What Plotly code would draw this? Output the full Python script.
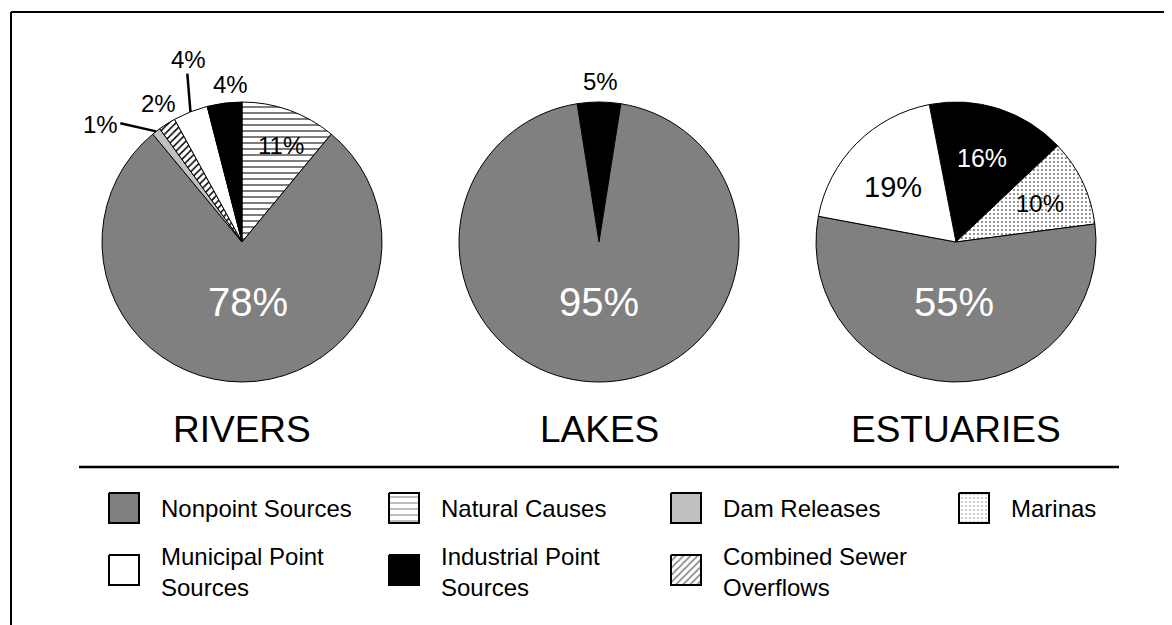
import math
import plotly.graph_objects as go

W, H = 1172, 625
OFF = 8  # browser body margin: the figure is drawn starting at (8, 8)
FW, FH = W - OFF, H - OFF
FONT = "Liberation Sans, Arial, sans-serif"

# ---------------- data ----------------
rivers_labels = ["Natural Causes", "Nonpoint Sources", "Dam Releases",
                 "Combined Sewer Overflows", "Municipal Point Sources",
                 "Industrial Point Sources"]
rivers_values = [11, 78, 1, 2, 4, 4]

lakes_labels = ["Industrial Point Sources", "Nonpoint Sources"]
lakes_values = [5, 95]

estuaries_labels = ["Industrial Point Sources", "Marinas", "Nonpoint Sources",
                    "Municipal Point Sources"]
estuaries_values = [16, 10, 55, 19]

panel_titles = ["RIVERS", "LAKES", "ESTUARIES"]

legend_categories = ["Nonpoint Sources", "Natural Causes", "Dam Releases", "Marinas",
                     "Municipal Point Sources", "Industrial Point Sources",
                     "Combined Sewer Overflows"]
legend_texts = ["Nonpoint Sources", "Natural Causes", "Dam Releases", "Marinas",
                "Municipal Point<br>Sources", "Industrial Point<br>Sources",
                "Combined Sewer<br>Overflows"]

# ---------------- styles ----------------
STYLE = {
    "Nonpoint Sources":         dict(color="#808080", shape="",  fg="#808080", size=6, sol=0.2),
    "Natural Causes":           dict(color="white",   shape="-", fg="black",   size=6, sol=0.17),
    "Dam Releases":             dict(color="#C0C0C0", shape="",  fg="#C0C0C0", size=6, sol=0.2),
    "Marinas":                  dict(color="white",   shape=".", fg="black",   size=4, sol=0.12),
    "Municipal Point Sources":  dict(color="white",   shape="",  fg="white",   size=6, sol=0.2),
    "Industrial Point Sources": dict(color="black",   shape="",  fg="black",   size=6, sol=0.2),
    "Combined Sewer Overflows": dict(color="white",   shape="/", fg="black",   size=5, sol=0.3),
}

R = 140
panels = [
    dict(labels=rivers_labels, values=rivers_values, cx=242, cy=242, rot=0,
         lab=[dict(r=104, off=2, size=24, color="black"),
              dict(r=60, off=-5.5, size=40, color="white"),
              dict(r=184, off=-12.7, size=24, color="black", leader=(170, -7.9)),
              dict(r=162, off=1.4, size=24, color="black"),
              dict(r=190, off=5.1, size=24, color="black", leader=(177, 3.6)),
              dict(r=158, off=2.9, size=24, color="black")]),
    dict(labels=lakes_labels, values=lakes_values, cx=599, cy=242, rot=-9,
         lab=[dict(r=161, off=0.7, size=24, color="black"),
              dict(r=60, off=0, size=40, color="white")]),
    dict(labels=estuaries_labels, values=estuaries_values, cx=956, cy=242, rot=-11,
         lab=[dict(r=88, off=-0.6, size=25, color="white"),
              dict(r=92, off=1.0, size=24, color="black"),
              dict(r=60, off=0, size=40, color="white"),
              dict(r=84, off=-3.5, size=29, color="black")]),
]


def px(x):
    """window pixel x -> paper x"""
    return (x - OFF) / FW


def py(y):
    """window pixel y -> paper y"""
    return 1 - (y - OFF) / FH


def polar(cx, cy, r, ang):
    a = math.radians(ang)
    return cx + r * math.sin(a), cy - r * math.cos(a)


fig = go.Figure()
annotations = []
shapes = []

for p, title in zip(panels, panel_titles):
    labs, vals = p["labels"], p["values"]
    st = [STYLE[l] for l in labs]
    fig.add_trace(go.Pie(
        labels=labs, values=vals, sort=False, direction="clockwise",
        rotation=p["rot"], textinfo="none", hoverinfo="label+percent",
        showlegend=False,
        domain=dict(x=[px(p["cx"] - R), px(p["cx"] + R)],
                    y=[py(p["cy"] + R), py(p["cy"] - R)]),
        marker=dict(colors=[s["color"] for s in st],
                    line=dict(color="black", width=1),
                    pattern=dict(shape=[s["shape"] for s in st],
                                 fgcolor=[s["fg"] for s in st],
                                 bgcolor=[s["color"] for s in st],
                                 size=[s["size"] for s in st],
                                 solidity=[s["sol"] for s in st])),
    ))
    total = sum(vals)
    cum = 0
    for v, spec in zip(vals, p["lab"]):
        mid = p["rot"] + (cum + v / 2) * 360 / total
        cum += v
        lx, ly = polar(p["cx"], p["cy"], spec["r"], mid + spec["off"])
        annotations.append(dict(x=px(lx), y=py(ly), xref="paper", yref="paper",
                                text=f"{v}%", showarrow=False,
                                xanchor="center", yanchor="middle",
                                font=dict(family=FONT, size=spec["size"], color=spec["color"])))
        if "leader" in spec:
            ox, oy = polar(p["cx"], p["cy"], spec["leader"][0], mid + spec["leader"][1])
            ix, iy = polar(p["cx"], p["cy"], R, mid)
            shapes.append(dict(type="line", xref="paper", yref="paper",
                               x0=px(ox), y0=py(oy), x1=px(ix), y1=py(iy),
                               line=dict(color="black", width=2.5)))
    annotations.append(dict(x=px(p["cx"]), y=py(429), xref="paper", yref="paper",
                            text=title, showarrow=False, xanchor="center", yanchor="middle",
                            font=dict(family=FONT, size=37, color="black")))

# ---------------- legend (custom) ----------------
col_swatch = [109, 389, 671, 959]
row_center = [508, 570]
SW = 30
for i, (cat, txt) in enumerate(zip(legend_categories, legend_texts)):
    row, col = divmod(i, 4)
    x0 = col_swatch[col]
    yc = row_center[row]
    y0 = yc - SW / 2
    s = STYLE[cat]
    fp = dict(shape=s["shape"], fgcolor=s["fg"], bgcolor=s["color"],
              size=s["size"], solidity=s["sol"]) if s["shape"] else None
    fig.add_trace(go.Scatter(
        x=[x0, x0 + SW, x0 + SW, x0, x0], y=[y0, y0, y0 + SW, y0 + SW, y0],
        mode="lines", fill="toself", fillcolor=s["color"],
        fillpattern=fp, line=dict(color="black", width=2),
        hoverinfo="skip", showlegend=False))
    annotations.append(dict(x=px(x0 + 50), y=py(yc + (2 if "<br>" in txt else 0)),
                            xref="paper", yref="paper",
                            text=txt, showarrow=False, xanchor="left", yanchor="middle",
                            align="left",
                            font=dict(family=FONT, size=24, color="black")))

# frame and separator
shapes.append(dict(type="line", xref="paper", yref="paper", x0=px(11), y0=py(12),
                   x1=px(W + 5), y1=py(12), line=dict(color="black", width=2)))
shapes.append(dict(type="line", xref="paper", yref="paper", x0=px(11), y0=py(12),
                   x1=px(11), y1=py(H + 5), line=dict(color="black", width=2)))
shapes.append(dict(type="line", xref="paper", yref="paper", x0=px(79), y0=py(467),
                   x1=px(1119), y1=py(467), line=dict(color="black", width=2.5)))

fig.update_layout(
    width=FW, height=FH, margin=dict(l=0, r=0, t=0, b=0),
    paper_bgcolor="white", plot_bgcolor="white",
    xaxis=dict(range=[OFF, W], visible=False, fixedrange=True),
    yaxis=dict(range=[H, OFF], visible=False, fixedrange=True),
    annotations=annotations, shapes=shapes,
)

fig.write_html("out.html")
